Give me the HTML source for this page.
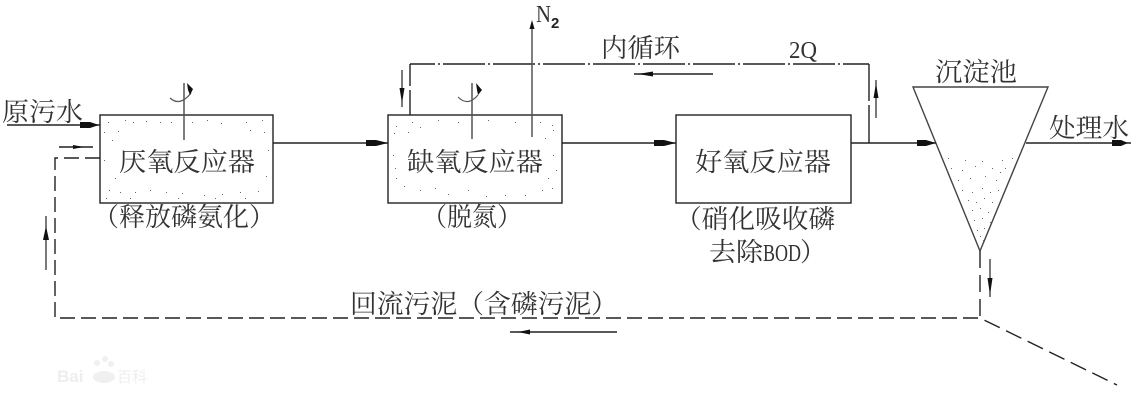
<!DOCTYPE html>
<html><head><meta charset="utf-8"><style>
html,body{margin:0;padding:0;background:#fff;width:1133px;height:401px;overflow:hidden}
svg{display:block}
text{font-family:"Liberation Serif","Noto Serif CJK SC",serif;fill:#333}
.t{font-family:"Noto Serif CJK SC","Liberation Serif",serif;font-size:26px}
.s{font-family:"Liberation Serif",serif}
.l{stroke:#222;stroke-width:1.4;fill:none}
.g{stroke:#555;stroke-width:1.5;fill:none}
.d{fill:#666}
</style></head><body>
<svg width="1133" height="401" viewBox="0 0 1133 401" xmlns="http://www.w3.org/2000/svg">
<rect width="1133" height="401" fill="#fff"/>
<g class="l">
<rect x="100" y="115" width="173" height="88"/>
<rect x="388" y="115" width="174" height="88"/>
<rect x="676" y="115" width="175" height="88"/>
<path d="M913 87H1048L980 251Z" stroke="#444"/>
<path d="M7 125H100M273 143H388M562 143H676M851 143H936M1026 143H1131"/>
<path d="M59 147H93M510 332H617M634 74H713"/>
<path d="M869 64H410" stroke-dasharray="42 3 2 3" stroke-dashoffset="16"/>
<path d="M869 143V105M869 101V64M410 115V90M410 86V64"/>
<path d="M100 158H55V318H980" stroke-dasharray="15 6"/>
<path d="M980 251V318L1117 385" stroke-dasharray="17 7"/>
<path d="M46 216V270M402 70V107M876 80V118M990 259V297" stroke-width="1.2"/>
</g>
<g class="g">
<path d="M184 140V83M472 139V83M532 137V24"/>
<path d="M170 98Q180 107 191 93M458 97Q468 107 478 95" stroke-width="1.2"/>
</g>
<g fill="#111">
<path d="M80 122H90L99 125L90 128H80ZM366 140H376L388 143L376 146H366ZM654 140H664L676 143L664 146H654ZM917 140H926L936 143L926 146H917ZM1112 140H1121L1128 143L1121 146H1112Z"/>
<path d="M73 145L84 147L73 149ZM638 74L653 71.5V76.5ZM518 332L530 329.5V334.5ZM46 226L43 240H49ZM402 103L399.5 88H404.5ZM876 83L873.5 98H878.5ZM990 295L987.5 278H992.5ZM532 20L529.5 29H534.5Z"/>
<path d="M187 83L193 89L190 95L188 90ZM476 83L482 90L478 95L477 90Z"/>
</g>
<g class="d">
<path d="M108 122h1v1h-1zM125 120h1v1h-1zM133 122h1v1h-1zM146 121h1v1h-1zM160 122h1v1h-1zM171 122h1v1h-1zM192 122h1v1h-1zM207 120h1v1h-1zM221 123h1v1h-1zM246 122h1v1h-1zM262 120h1v1h-1zM104 132h1v1h-1zM118 131h1v1h-1zM112 140h1v1h-1zM104 160h1v1h-1zM115 178h1v1h-1zM109 190h1v1h-1zM120 192h1v1h-1zM135 192h1v1h-1zM150 190h1v1h-1zM166 192h1v1h-1zM182 193h1v1h-1zM204 195h1v1h-1zM222 194h1v1h-1zM240 192h1v1h-1zM258 191h1v1h-1zM266 176h1v1h-1zM268 150h1v1h-1zM264 132h1v1h-1zM250 130h1v1h-1zM106 198h1v1h-1zM130 198h1v1h-1zM178 198h1v1h-1zM215 198h1v1h-1zM245 198h1v1h-1z"/>
<path d="M396 126h1v1h-1zM412 122h1v1h-1zM420 127h1v1h-1zM438 120h1v1h-1zM458 122h1v1h-1zM488 120h1v1h-1zM515 122h1v1h-1zM540 122h1v1h-1zM552 125h1v1h-1zM394 133h1v1h-1zM408 132h1v1h-1zM393 155h1v1h-1zM395 168h1v1h-1zM553 155h1v1h-1zM556 170h1v1h-1zM396 178h1v1h-1zM404 186h1v1h-1zM420 190h1v1h-1zM435 188h1v1h-1zM448 194h1v1h-1zM468 190h1v1h-1zM486 196h1v1h-1zM505 195h1v1h-1zM525 195h1v1h-1zM542 190h1v1h-1zM552 188h1v1h-1zM548 178h1v1h-1zM553 130h1v1h-1zM545 138h1v1h-1z"/>
<path d="M948 158h1v1h-1zM965 160h1v1h-1zM982 161h1v1h-1zM1002 160h1v1h-1zM1012 158h1v1h-1zM951 168h1v1h-1zM962 170h1v1h-1zM975 166h1v1h-1zM992 168h1v1h-1zM1005 168h1v1h-1zM958 180h1v1h-1zM970 178h1v1h-1zM985 176h1v1h-1zM996 180h1v1h-1zM1000 172h1v1h-1zM962 190h1v1h-1zM972 192h1v1h-1zM982 188h1v1h-1zM990 192h1v1h-1zM998 190h1v1h-1zM968 200h1v1h-1zM976 202h1v1h-1zM984 198h1v1h-1zM992 202h1v1h-1zM972 210h1v1h-1zM980 208h1v1h-1zM988 212h1v1h-1zM974 220h1v1h-1zM982 218h1v1h-1zM990 222h1v1h-1zM977 230h1v1h-1zM984 228h1v1h-1zM980 236h1v1h-1zM983 240h1v1h-1z"/>
</g>
<text class="t" x="2" y="121" textLength="81" lengthAdjust="spacingAndGlyphs">原污水</text>
<text class="t" x="119" y="171" textLength="136" lengthAdjust="spacingAndGlyphs">厌氧反应器</text>
<text class="t" x="407" y="171" textLength="136" lengthAdjust="spacingAndGlyphs">缺氧反应器</text>
<text class="t" x="695" y="171" textLength="136" lengthAdjust="spacingAndGlyphs">好氧反应器</text>
<text class="t" x="93" y="226" textLength="182" lengthAdjust="spacingAndGlyphs">（释放磷氨化）</text>
<text class="t" x="422" y="226" textLength="100" lengthAdjust="spacingAndGlyphs">（脱氮）</text>
<text class="t" x="675" y="228" textLength="160" lengthAdjust="spacingAndGlyphs">（硝化吸收磷</text>
<text class="t" x="709" y="261" textLength="54" lengthAdjust="spacingAndGlyphs">去除</text>
<text class="s" x="763" y="261" font-size="24" textLength="38" lengthAdjust="spacingAndGlyphs">BOD</text>
<text class="t" x="800" y="261">）</text>
<text class="t" x="601" y="57" textLength="79" lengthAdjust="spacingAndGlyphs">内循环</text>
<text class="t" x="935" y="81" textLength="82" lengthAdjust="spacingAndGlyphs">沉淀池</text>
<text class="t" x="1049" y="137" textLength="80" lengthAdjust="spacingAndGlyphs">处理水</text>
<text class="t" x="350" y="313" textLength="268" lengthAdjust="spacingAndGlyphs">回流污泥（含磷污泥）</text>
<text class="s" x="536" y="22" font-size="24" textLength="15" lengthAdjust="spacingAndGlyphs">N</text>
<text x="551" y="28" font-size="15" font-weight="bold" style="font-family:'Liberation Sans',sans-serif;fill:#222">2</text>
<text class="s" x="789" y="58" font-size="24" textLength="28" lengthAdjust="spacingAndGlyphs">2Q</text>
<text x="57" y="382" font-size="17" style="fill:#eee;font-family:'Liberation Sans',sans-serif" font-weight="bold">Bai</text>
<text x="117" y="382" font-size="15" style="fill:#eee;font-family:'Noto Sans CJK SC',sans-serif">百科</text>
<g fill="#f0f0f0"><ellipse cx="104" cy="377" rx="11" ry="6"/><circle cx="97" cy="363" r="3"/><circle cx="105" cy="359" r="3"/><circle cx="111" cy="364" r="3"/></g>
</svg>
</body></html>
